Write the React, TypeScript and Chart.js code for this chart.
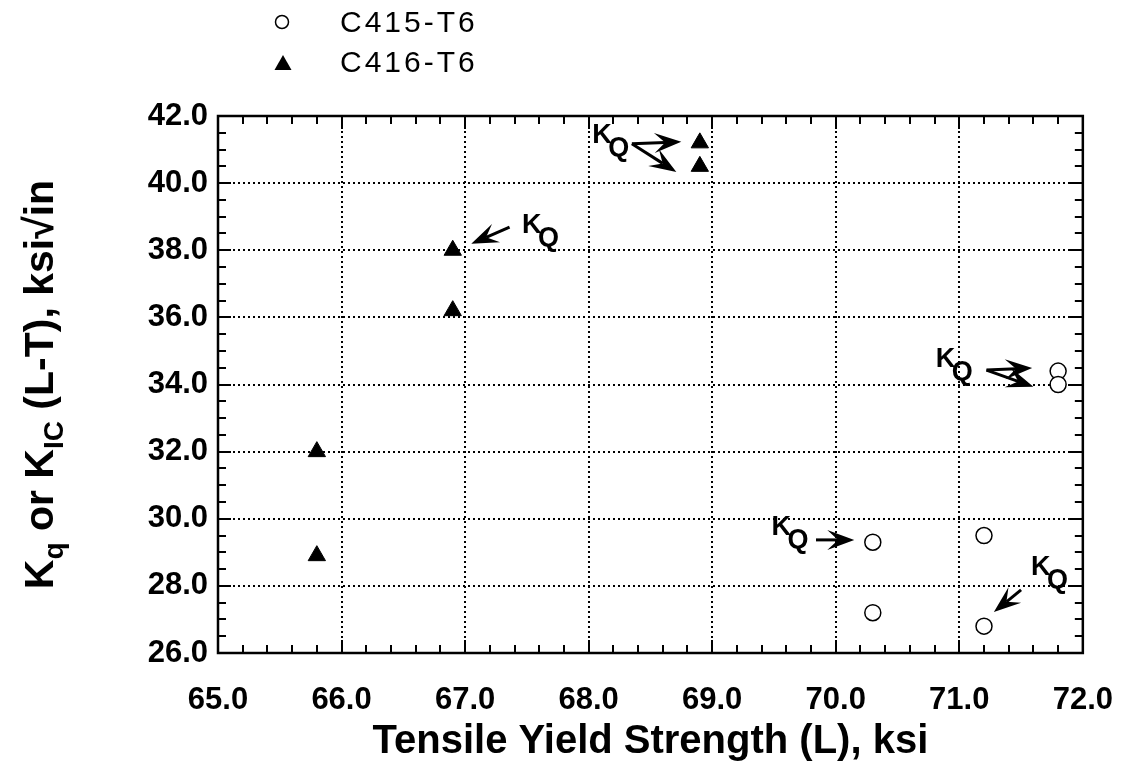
import React, { useEffect, useRef } from "react";
import { Chart, registerables } from "chart.js";

Chart.register(...registerables);

// ---- data ----
const seriesNames = ["C415-T6", "C416-T6"];
const c415X = [70.3, 70.3, 71.2, 71.2, 71.8, 71.8];
const c415Y = [29.3, 27.2, 29.5, 26.8, 34.4, 34.0];
const c416X = [65.8, 65.8, 66.9, 66.9, 68.9, 68.9];
const c416Y = [32.0, 28.9, 38.0, 36.2, 41.2, 40.5];

const xMin = 65;
const xMax = 72;
const xStep = 1;
const xMinorStep = 0.2;
const yMin = 26;
const yMax = 42;
const yStep = 2;
const yMinorStep = 0.5;

const xTitle = "Tensile Yield Strength (L), ksi";
// y title pieces: [text, isSubscript]
const yTitleParts: [string, boolean][] = [
  ["K", false],
  ["q", true],
  [" or ", false],
  ["K", false],
  ["IC", true],
  [" (L-T), ksi", false],
  ["\u221A", false],
  ["in", false],
];

// K_Q annotations (data coordinates): label [x, y]
const kqLabelX = [68.03, 67.46, 70.81, 69.48, 71.58];
const kqLabelY = [41.2, 38.51, 34.52, 29.51, 28.32];
// arrows: tail x, tail y, head x, head y
const kqArrowTailX = [68.35, 68.35, 67.36, 71.22, 71.22, 69.84, 71.5];
const kqArrowTailY = [41.17, 41.17, 38.69, 34.43, 34.43, 29.37, 27.88];
const kqArrowHeadX = [68.75, 68.71, 67.05, 71.59, 71.6, 70.15, 71.28];
const kqArrowHeadY = [41.23, 40.33, 38.19, 34.49, 33.93, 29.37, 27.22];

const FONT = '"Liberation Sans", Arial, Helvetica, sans-serif';

function drawArrow(ctx: CanvasRenderingContext2D, x1: number, y1: number, x2: number, y2: number) {
  const dx = x2 - x1;
  const dy = y2 - y1;
  const len = Math.hypot(dx, dy);
  const ux = dx / len;
  const uy = dy / len;
  const px = -uy;
  const py = ux;
  const L = 27;
  const W = 10;
  ctx.beginPath();
  ctx.moveTo(x1, y1);
  ctx.lineTo(x2 - ux * L * 0.6, y2 - uy * L * 0.6);
  ctx.stroke();
  ctx.beginPath();
  ctx.moveTo(x2, y2);
  ctx.lineTo(x2 - ux * L + px * W, y2 - uy * L + py * W);
  ctx.lineTo(x2 - ux * L * 0.6, y2 - uy * L * 0.6);
  ctx.lineTo(x2 - ux * L - px * W, y2 - uy * L - py * W);
  ctx.closePath();
  ctx.fill();
}

const framePlugin = {
  id: "frame",
  beforeDatasetsDraw(chart: any) {
    const { ctx, chartArea: a, scales } = chart;
    const x = scales.x;
    const y = scales.y;
    ctx.save();
    ctx.strokeStyle = "#000";
    // dotted grid
    ctx.lineWidth = 2;
    ctx.setLineDash([2, 3]);
    const nx = Math.round((xMax - xMin) / xStep);
    for (let i = 1; i < nx; i++) {
      const px = Math.round(x.getPixelForValue(xMin + i * xStep));
      ctx.beginPath();
      ctx.moveTo(px, a.top);
      ctx.lineTo(px, a.bottom);
      ctx.stroke();
    }
    const ny = Math.round((yMax - yMin) / yStep);
    for (let i = 1; i < ny; i++) {
      const py = Math.round(y.getPixelForValue(yMin + i * yStep));
      ctx.beginPath();
      ctx.moveTo(a.left, py);
      ctx.lineTo(a.right, py);
      ctx.stroke();
    }
    ctx.setLineDash([]);
    // inward ticks
    ctx.lineWidth = 2;
    const nxm = Math.round((xMax - xMin) / xMinorStep);
    const perX = Math.round(xStep / xMinorStep);
    for (let i = 1; i < nxm; i++) {
      const px = Math.round(x.getPixelForValue(xMin + i * xMinorStep));
      const len = i % perX === 0 ? 13 : 8;
      ctx.beginPath();
      ctx.moveTo(px, a.bottom);
      ctx.lineTo(px, a.bottom - len);
      ctx.moveTo(px, a.top);
      ctx.lineTo(px, a.top + len);
      ctx.stroke();
    }
    const nym = Math.round((yMax - yMin) / yMinorStep);
    const perY = Math.round(yStep / yMinorStep);
    for (let i = 1; i < nym; i++) {
      const py = Math.round(y.getPixelForValue(yMin + i * yMinorStep));
      const len = i % perY === 0 ? 13 : 8;
      ctx.beginPath();
      ctx.moveTo(a.left, py);
      ctx.lineTo(a.left + len, py);
      ctx.moveTo(a.right, py);
      ctx.lineTo(a.right - len, py);
      ctx.stroke();
    }
    // border
    ctx.lineWidth = 2.5;
    ctx.strokeRect(a.left, a.top, a.width, a.height);
    ctx.restore();
  },
  afterDraw(chart: any) {
    const { ctx, chartArea: a, scales } = chart;
    const x = scales.x;
    const y = scales.y;
    ctx.save();
    ctx.fillStyle = "#000";
    ctx.strokeStyle = "#000";

    // K_Q labels
    ctx.textBaseline = "alphabetic";
    ctx.textAlign = "left";
    for (let i = 0; i < kqLabelX.length; i++) {
      const px = x.getPixelForValue(kqLabelX[i]);
      const py = y.getPixelForValue(kqLabelY[i]);
      ctx.font = `bold 27px ${FONT}`;
      ctx.fillText("K", px, py);
      ctx.fillText("Q", px + 16, py + 13);
    }
    // arrows
    ctx.lineWidth = 3;
    for (let i = 0; i < kqArrowTailX.length; i++) {
      drawArrow(
        ctx,
        x.getPixelForValue(kqArrowTailX[i]),
        y.getPixelForValue(kqArrowTailY[i]),
        x.getPixelForValue(kqArrowHeadX[i]),
        y.getPixelForValue(kqArrowHeadY[i])
      );
    }

    // legend
    ctx.lineWidth = 1.5;
    ctx.beginPath();
    ctx.arc(282, 22, 6.5, 0, Math.PI * 2);
    ctx.stroke();
    ctx.beginPath();
    ctx.moveTo(283, 55);
    ctx.lineTo(274.5, 70);
    ctx.lineTo(291.5, 70);
    ctx.closePath();
    ctx.fill();
    ctx.font = `30px ${FONT}`;
    (ctx as any).letterSpacing = "3px";
    ctx.textBaseline = "middle";
    ctx.fillText(seriesNames[0], 340, 24);
    ctx.fillText(seriesNames[1], 340, 64);
    (ctx as any).letterSpacing = "0px";

    // x title
    ctx.textBaseline = "alphabetic";
    ctx.textAlign = "center";
    ctx.font = `bold 40px ${FONT}`;
    ctx.fillText(xTitle, (a.left + a.right) / 2, 753);

    // y title (rotated)
    const mainFont = `bold 41px ${FONT}`;
    const subFont = `bold 28px ${FONT}`;
    let total = 0;
    const widths: number[] = [];
    for (const [t, sub] of yTitleParts) {
      ctx.font = sub ? subFont : mainFont;
      const w = ctx.measureText(t).width;
      widths.push(w);
      total += w;
    }
    ctx.translate(53, (a.top + a.bottom) / 2);
    ctx.rotate(-Math.PI / 2);
    ctx.textAlign = "left";
    let cx = -total / 2;
    yTitleParts.forEach(([t, sub], i) => {
      ctx.font = sub ? subFont : mainFont;
      ctx.fillText(t, cx, sub ? 10 : 0);
      cx += widths[i];
    });
    ctx.restore();
  },
};

export default function App() {
  const canvasRef = useRef<HTMLCanvasElement | null>(null);

  useEffect(() => {
    if (!canvasRef.current) return;
    const chart = new Chart(canvasRef.current, {
      type: "scatter",
      data: {
        datasets: [
          {
            label: seriesNames[0],
            data: c415X.map((v, i) => ({ x: v, y: c415Y[i] })),
            pointStyle: "circle",
            pointRadius: 8,
            backgroundColor: "#fff",
            borderColor: "#000",
            borderWidth: 1.5,
          },
          {
            label: seriesNames[1],
            data: c416X.map((v, i) => ({ x: v, y: c416Y[i] })),
            pointStyle: "triangle",
            pointRadius: 10,
            backgroundColor: "#000",
            borderColor: "#000",
            borderWidth: 1,
          },
        ],
      },
      options: {
        responsive: true,
        maintainAspectRatio: false,
        animation: false,
        layout: { padding: { top: 116, right: 40, left: 0, bottom: 0 } },
        plugins: {
          legend: { display: false },
          tooltip: { enabled: false },
        },
        scales: {
          x: {
            type: "linear",
            min: xMin,
            max: xMax,
            grid: { display: false },
            border: { display: false },
            ticks: {
              stepSize: xStep,
              autoSkip: false,
              maxRotation: 0,
              color: "#000",
              padding: 21,
              font: { family: FONT, size: 31, weight: "bold" },
              callback: (v: any) => Number(v).toFixed(1),
            },
            afterFit: (s: any) => {
              s.height = 115;
            },
          },
          y: {
            type: "linear",
            min: yMin,
            max: yMax,
            grid: { display: false },
            border: { display: false },
            ticks: {
              stepSize: yStep,
              color: "#000",
              padding: 2,
              font: { family: FONT, size: 31, weight: "bold" },
              callback: (v: any) => Number(v).toFixed(1),
            },
            afterFit: (s: any) => {
              s.width = 218;
            },
          },
        },
      },
      plugins: [framePlugin],
    });
    return () => chart.destroy();
  }, []);

  return (
    <div
      style={{
        position: "absolute",
        left: 0,
        top: 0,
        width: 1134,
        height: 768,
        background: "#fff",
      }}
    >
      <canvas ref={canvasRef} />
    </div>
  );
}
